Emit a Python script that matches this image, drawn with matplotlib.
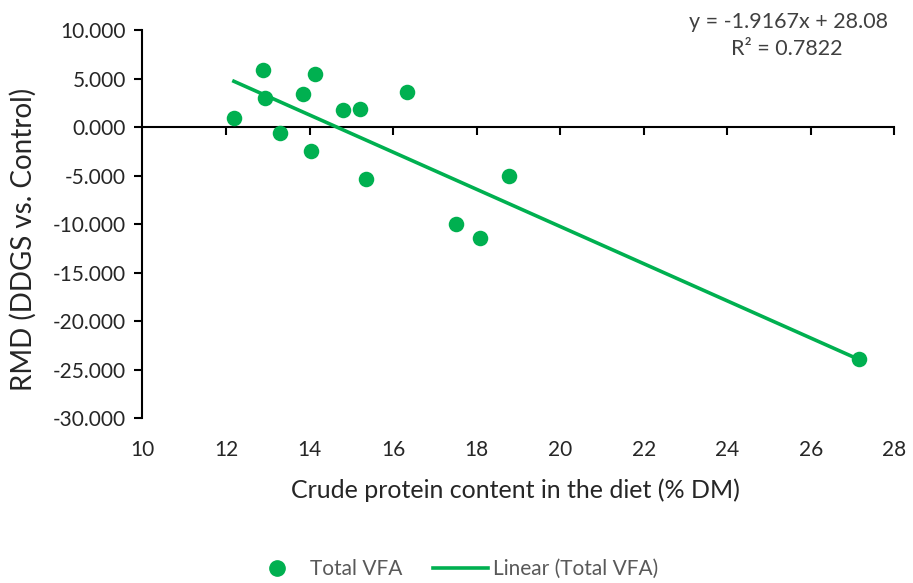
import matplotlib
matplotlib.use("Agg")
import matplotlib.pyplot as plt
from matplotlib.lines import Line2D
import numpy as np

# Crude protein content (% DM) and RMD of total VFA
crude_protein = [12.19, 12.89, 12.93, 13.30, 13.85, 14.13, 14.04, 14.79,
                 15.22, 15.35, 16.33, 17.51, 18.08, 18.77, 27.16]
rmd_total_vfa = [0.9, 5.9, 3.0, -0.6, 3.4, 5.5, -2.45, 1.75,
                 1.9, -5.4, 3.65, -10.0, -11.4, -5.1, -23.95]

# Linear trend coefficients
slope = -1.9167
intercept = 28.08
r_squared = 0.7822

x_ticks = [10, 12, 14, 16, 18, 20, 22, 24, 26, 28]
y_ticks = [10, 5, 0, -5, -10, -15, -20, -25, -30]

green = "#00B050"
font = ["Lato", "DejaVu Sans"]
plt.rcParams["font.family"] = font

fig = plt.figure(figsize=(9.13, 5.83), dpi=100)
ax = fig.add_axes([0.156, 0.283, 0.8235, 0.6655])
ax.set_xlim(10, 28)
ax.set_ylim(-30, 10)

ax.scatter(crude_protein, rmd_total_vfa, s=125, color=green, zorder=3,
           linewidths=0)
x_fit = np.array([min(crude_protein), max(crude_protein)])
ax.plot(x_fit, slope * x_fit + intercept, color=green, lw=2.6, zorder=2)

# y axis
ax.set_yticks(y_ticks)
ax.set_yticklabels([f"{v:.3f}" for v in y_ticks], fontsize=15,
                   color="#262626")
ax.spines["left"].set_linewidth(1.5)
ax.tick_params(axis="y", direction="out", length=6, width=1.5, pad=6)
for s in ["top", "right", "bottom"]:
    ax.spines[s].set_visible(False)

# x labels along the bottom, axis line at zero
ax.set_xticks(x_ticks)
ax.set_xticklabels([str(v) for v in x_ticks], fontsize=15, color="#262626")
ax.tick_params(axis="x", length=0, pad=16)
zero_frac = (0 - (-30)) / 40
sec = ax.secondary_xaxis(zero_frac)
sec.set_xticks(x_ticks[1:])
sec.set_xticklabels([])
for sp in sec.spines.values():
    sp.set_linewidth(1.5)
sec.tick_params(axis="x", direction="in", length=6, width=1.5)

ax.set_ylabel("RMD (DDGS vs. Control)", fontsize=20, color="#262626")
ax.yaxis.set_label_coords(-0.140, 0.459)
ax.set_xlabel("Crude protein content in the diet (% DM)", fontsize=18,
              color="#262626")
ax.xaxis.set_label_coords(0.4965, -0.155)

# Trendline equation
fig.text(0.8635, 0.963, f"y = {slope}x + {intercept}", ha="center",
         va="center", fontsize=15.5, color="#404040")
fig.text(0.8615, 0.916, f"R² = {r_squared}", ha="center", va="center",
         fontsize=15.5, color="#404040")

handles = [
    Line2D([], [], marker="o", ls="none", color=green, markersize=11),
    Line2D([], [], color=green, lw=2.6),
]
fig.legend(handles, ["Total VFA", "Linear (Total VFA)"], loc="center",
           bbox_to_anchor=(0.4975, 0.024), ncol=2, frameon=False, fontsize=15,
           labelcolor="#595959", handlelength=2.6, columnspacing=1.5,
           handletextpad=0.25)

fig.savefig("out.png", dpi=100)
